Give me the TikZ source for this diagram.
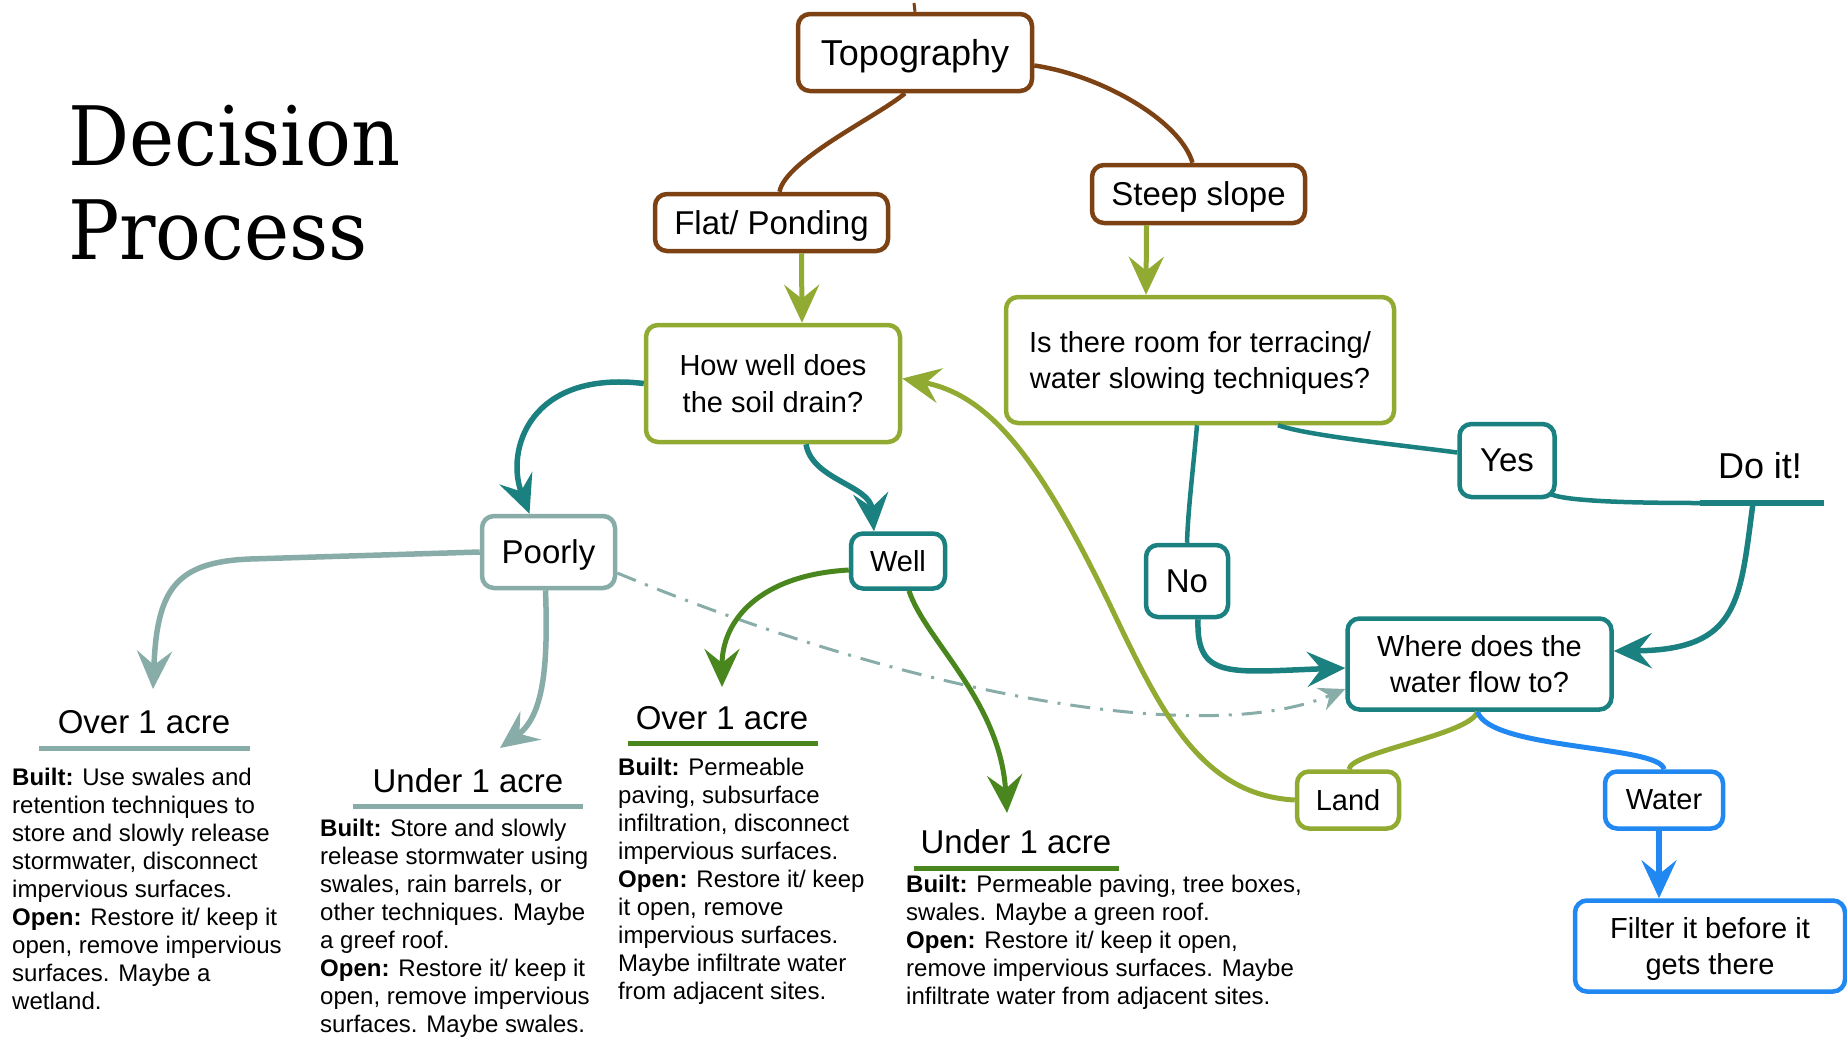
\documentclass[tikz,border=0pt]{standalone}
\usepackage{fontspec}
\setmainfont{Liberation Sans}
\newfontfamily\titlefont[FakeStretch=0.93]{DejaVu Serif}
\usetikzlibrary{arrows.meta}
\definecolor{cbrown}{RGB}{125,66,20}
\definecolor{colive}{RGB}{145,170,50}
\definecolor{cteal}{RGB}{26,128,128}
\definecolor{cgray}{RGB}{136,172,168}
\definecolor{cdgreen}{RGB}{74,134,30}
\definecolor{cblue}{RGB}{32,136,240}
\begin{document}
\begin{tikzpicture}[x=1pt,y=-1pt,
  box/.style={draw, line width=4.5pt, rounded corners=12pt, fill=white, inner sep=0pt, align=center, text=black, text depth=0pt},
  fbig/.style={font=\fontsize{36}{42}\selectfont},
  fmid/.style={font=\fontsize{33}{39}\selectfont},
  fsml/.style={font=\fontsize{29}{36.5}\selectfont},
  body/.style={anchor=north west, align=left, inner sep=0pt, font=\fontsize{24}{28}\selectfont},
  head/.style={inner sep=0pt, font=\fontsize{33}{39}\selectfont},
  tip/.style={-{Stealth[length=38pt,width=35pt,inset=14pt]}},
  smalltip/.style={-{Stealth[length=26pt,width=24pt,inset=9pt]}},
]
\useasboundingbox (0,0) rectangle (1847,1037);

% title
\node[anchor=base west, inner sep=0pt, font=\titlefont\fontsize{82}{94}\selectfont] (title1) at (68,165) {Decision};
\node[anchor=base west, inner sep=0pt, font=\titlefont\fontsize{82}{94}\selectfont] (title2) at (68,259) {Process};

% boxes
\node[box, draw=cbrown, fbig, minimum width=234pt, minimum height=77pt] (topo) at (915,52.5) {Topography};
\node[box, draw=cbrown, fmid, minimum width=233pt, minimum height=57pt] (flat) at (771.5,222.5) {Flat/ Ponding};
\node[box, draw=cbrown, fmid, minimum width=213pt, minimum height=58pt] (steep) at (1198.5,194) {Steep slope};
\node[box, draw=colive, fsml, minimum width=254pt, minimum height=117pt] (how) at (773,383.5) {How well does\\the soil drain?};
\node[box, draw=colive, fsml, minimum width=388pt, minimum height=126pt] (room) at (1200,360) {Is there room for terracing/\\water slowing techniques?};
\node[box, draw=cteal, fmid, minimum width=95pt, minimum height=73pt] (yes) at (1507,460.5) {Yes};
\node[box, draw=cteal, fmid, minimum width=82pt, minimum height=72pt] (no) at (1187,581) {No};
\node[box, draw=cgray, fmid, minimum width=133pt, minimum height=72pt] (poorly) at (548.5,552) {Poorly};
\node[box, draw=cteal, fsml, minimum width=94pt, minimum height=55pt] (well) at (898,561) {Well};
\node[box, draw=cteal, fsml, minimum width=264pt, minimum height=91pt] (where) at (1479.5,664) {Where does the\\water flow to?};
\node[box, draw=colive, fsml, minimum width=102pt, minimum height=57pt] (land) at (1348,800) {Land};
\node[box, draw=cblue, fsml, minimum width=118pt, minimum height=57pt] (water) at (1664,800) {Water};
\node[box, draw=cblue, fsml, minimum width=270pt, minimum height=91pt] (filter) at (1710,946) {Filter it before it\\gets there};
\node[inner sep=0pt, fbig, anchor=base] (doit) at (1760,478) {Do it!};

% free ends
\coordinate (stub) at (914,3);
\coordinate (ul) at (1700,503);
\coordinate (ur) at (1824,503);
\coordinate (ud) at (1753,503);
\coordinate (o1tip) at (153,689);
\coordinate (u1tip) at (500,748);
\coordinate (o2tip) at (722,687);
\coordinate (u2tip) at (1007,813);

% headings and underlines
\node[head] (h1) at (144,722) {Over 1 acre};
\node[head] (h2) at (468,781) {Under 1 acre};
\node[head] (h3) at (722,718) {Over 1 acre};
\node[head] (h4) at (1016,842) {Under 1 acre};
\coordinate (h1a) at (39,748);  \coordinate (h1b) at (250,748);
\coordinate (h2a) at (353,806); \coordinate (h2b) at (583,806);
\coordinate (h3a) at (628,743); \coordinate (h3b) at (818,743);
\coordinate (h4a) at (914,868); \coordinate (h4b) at (1119,868);
\draw[cgray, line width=5pt] (h1a) -- (h1b);
\draw[cgray, line width=5pt] (h2a) -- (h2b);
\draw[cdgreen, line width=5pt] (h3a) -- (h3b);
\draw[cdgreen, line width=5pt] (h4a) -- (h4b);

% body texts
\node[body] (t1) at (12,768) {\textbf{Built:} Use swales and\\retention techniques to\\store and slowly release\\stormwater, disconnect\\impervious surfaces.\\\textbf{Open:} Restore it/ keep it\\open, remove impervious\\surfaces. Maybe a\\wetland.};
\node[body] (t2) at (320,819) {\textbf{Built:} Store and slowly\\release stormwater using\\swales, rain barrels, or\\other techniques. Maybe\\a greef roof.\\\textbf{Open:} Restore it/ keep it\\open, remove impervious\\surfaces. Maybe swales.};
\node[body] (t3) at (618,758) {\textbf{Built:} Permeable\\paving, subsurface\\infiltration, disconnect\\impervious surfaces.\\\textbf{Open:} Restore it/ keep\\it open, remove\\impervious surfaces.\\Maybe infiltrate water\\from adjacent sites.};
\node[body] (t4) at (906,875) {\textbf{Built:} Permeable paving, tree boxes,\\swales. Maybe a green roof.\\\textbf{Open:} Restore it/ keep it open,\\remove impervious surfaces. Maybe\\infiltrate water from adjacent sites.};

% connectors
\draw[cbrown, line width=3pt] (topo.north) -- (stub);
\draw[cbrown, line width=4.5pt] ([xshift=-10pt]topo.south) .. controls (880,115) and (785,160) .. ([xshift=8pt]flat.north);
\draw[cbrown, line width=4.5pt] ([yshift=-13pt]topo.east) .. controls (1100,75) and (1180,120) .. ([xshift=-6pt]steep.north);
\draw[colive, line width=5pt, tip] ([xshift=30pt]flat.south) -- ([xshift=29pt]how.north);
\draw[colive, line width=5pt, tip] ([xshift=-52pt]steep.south) -- ([xshift=-54pt]room.north);
\draw[cteal, line width=5.5pt, tip] (how.west) .. controls (530,370) and (505,450) .. ([xshift=-19pt]poorly.north);
\draw[cteal, line width=5.5pt, tip] ([xshift=33pt]how.south) .. controls (812,480) and (870,485) .. ([xshift=-24pt]well.north);
\draw[cgray, line width=5.5pt, tip] (poorly.west) -- (250,559) .. controls (175,562) and (157,590) .. (o1tip);
\draw[cgray, line width=5.5pt, tip] ([xshift=-3pt]poorly.south) .. controls (548,660) and (545,715) .. (u1tip);
\draw[cgray, line width=3pt, dash pattern=on 20pt off 10pt on 3pt off 10pt, smalltip] ([yshift=-21pt]poorly.east) .. controls (900,690) and (1200,750) .. ([yshift=-25pt]where.west);
\draw[cdgreen, line width=5pt, tip] ([yshift=-9pt]well.west) .. controls (760,575) and (722,620) .. (o2tip);
\draw[cdgreen, line width=5pt, tip] ([xshift=11pt]well.south) .. controls (925,640) and (1000,700) .. (u2tip);
\draw[colive, line width=5pt, tip] (land.west) .. controls (1200,795) and (1160,710) .. (1110,605) .. controls (1040,460) and (990,395) .. ([yshift=5pt]how.east);
\draw[cteal, line width=4.5pt] ([xshift=-3pt]room.south) .. controls (1193,470) and (1188,510) .. (no.north);
\draw[cteal, line width=4.5pt] ([xshift=78pt]room.south) .. controls (1310,436) and (1400,445) .. ([yshift=8pt]yes.west);
\draw[cteal, line width=4.5pt] ([xshift=-6pt,yshift=5pt]yes.south east) .. controls (1565,500) and (1610,503) .. (ul);
\draw[cteal, line width=6pt] (ul) -- (ur);
\draw[cteal, line width=5.5pt, tip] (ud) .. controls (1740,600) and (1740,650) .. ([yshift=13pt]where.east);
\draw[cteal, line width=5.5pt, tip] ([xshift=11pt]no.south) .. controls (1196,680) and (1230,672) .. ([yshift=-4pt]where.west);
\draw[colive, line width=5pt] ([xshift=-2pt]where.south) .. controls (1470,735) and (1350,752) .. ([xshift=1pt]land.north);
\draw[cblue, line width=5pt] ([xshift=-2pt]where.south) .. controls (1490,750) and (1660,745) .. (water.north);
\draw[cblue, line width=5.5pt, tip] ([xshift=-5pt]water.south) -- ([xshift=-51pt]filter.north);
\end{tikzpicture}
\end{document}
